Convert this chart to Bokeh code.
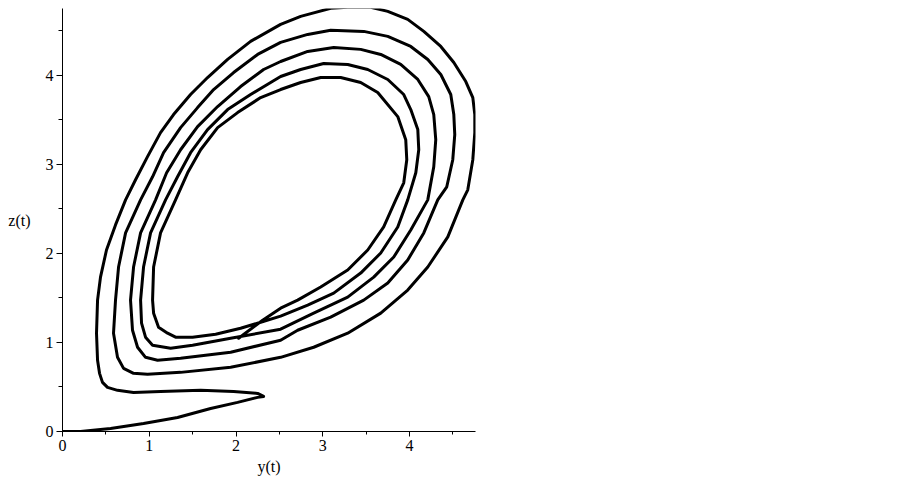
from bokeh.plotting import figure
from bokeh.models import SingleIntervalTicker
from bokeh.embed import file_html
from bokeh.resources import INLINE

# Trajectory: y(t) (horizontal) and z(t) (vertical)
tail_y = [0.0, 0.208, 0.554, 0.934, 1.326, 1.707, 2.018, 2.249, 2.318]
tail_z = [0.0, 0.0, 0.034, 0.090, 0.158, 0.259, 0.327, 0.383, 0.394]

loop1_y = [2.249, 1.972, 1.592, 1.130, 0.819, 0.634, 0.519, 0.461, 0.427, 0.404, 0.392, 0.404, 0.438, 0.507, 0.611, 0.727,
           0.842, 0.980, 1.130, 1.280, 1.476, 1.672, 1.903, 2.168, 2.514,
           2.745, 3.091, 3.287, 3.552, 3.749, 3.979, 4.164, 4.360, 4.510, 4.648, 4.729, 4.752, 4.752, 4.729, 4.671, 4.614,
           4.441, 4.210, 3.979, 3.668, 3.287, 2.895, 2.514]
loop1_z = [0.428, 0.450, 0.462, 0.450, 0.439, 0.462, 0.495, 0.552, 0.653, 0.800, 1.104, 1.475, 1.734, 2.038, 2.320, 2.601,
           2.827, 3.086, 3.356, 3.559, 3.784, 3.975, 4.178, 4.381, 4.572,
           4.662, 4.752, 4.764, 4.764, 4.718, 4.628, 4.493, 4.324, 4.144, 3.930, 3.750, 3.559, 3.356, 3.052, 2.714, 2.601,
           2.185, 1.847, 1.588, 1.329, 1.104, 0.946, 0.833]

loop2_y = [1.938, 1.361, 0.980, 0.819, 0.704, 0.634, 0.588, 0.611, 0.646, 0.727, 0.900,
           1.038, 1.165, 1.361, 1.557, 1.742, 1.972, 2.249, 2.514,
           2.826, 3.091, 3.472, 3.749, 4.014, 4.210, 4.360, 4.475, 4.510, 4.521, 4.498, 4.429, 4.325,
           4.164, 3.979, 3.749, 3.472, 3.091, 2.710, 2.514]
loop2_z = [0.721, 0.664, 0.642, 0.653, 0.709, 0.833, 1.104, 1.475, 1.847, 2.230, 2.601,
           2.860, 3.131, 3.412, 3.637, 3.840, 4.031, 4.234, 4.369,
           4.459, 4.505, 4.493, 4.437, 4.324, 4.178, 4.009, 3.784, 3.559, 3.333, 3.052, 2.748, 2.601,
           2.230, 1.926, 1.667, 1.475, 1.284, 1.137, 1.025]

loop3_y = [1.938, 1.361, 1.096, 0.957, 0.865, 0.807, 0.784, 0.819, 0.900, 1.073,
           1.200, 1.361, 1.557, 1.788, 2.053, 2.318, 2.514,
           2.826, 3.126, 3.437, 3.668, 3.898, 4.095, 4.221, 4.279, 4.302, 4.279, 4.210,
           4.014, 3.818, 3.587, 3.287, 2.895, 2.514]
loop3_z = [0.890, 0.822, 0.800, 0.833, 0.946, 1.137, 1.475, 1.847, 2.230, 2.601,
           2.905, 3.164, 3.423, 3.649, 3.874, 4.065, 4.155,
           4.268, 4.313, 4.291, 4.234, 4.122, 3.953, 3.761, 3.559, 3.277, 2.973, 2.601,
           2.263, 1.959, 1.734, 1.509, 1.329, 1.149]

loop4_y = [1.938, 1.499, 1.246, 1.038, 0.957, 0.911, 0.900, 0.934, 1.015, 1.188,
           1.326, 1.476, 1.672, 1.903, 2.168, 2.399, 2.514,
           2.745, 3.010, 3.287, 3.518, 3.749, 3.933, 4.014, 4.095, 4.106, 4.072, 3.979,
           3.864, 3.668, 3.437, 3.126, 2.826, 2.514]
loop4_z = [1.047, 0.968, 0.935, 0.968, 1.059, 1.216, 1.475, 1.847, 2.230, 2.601,
           2.860, 3.131, 3.390, 3.615, 3.784, 3.919, 3.986,
           4.065, 4.133, 4.122, 4.065, 3.953, 3.784, 3.615, 3.390, 3.164, 2.905, 2.601,
           2.297, 2.004, 1.779, 1.554, 1.419, 1.295]

loop5_y = [2.284, 2.053, 1.765, 1.499, 1.303, 1.211, 1.107, 1.050, 1.038, 1.050, 1.130, 1.303,
           1.442, 1.592, 1.788, 2.018, 2.284, 2.514,
           2.745, 2.976, 3.206, 3.437, 3.633, 3.864, 3.956, 3.968, 3.933, 3.841,
           3.702, 3.518, 3.287, 2.976, 2.710, 2.514, 2.307, 2.030]
loop5_z = [1.227, 1.160, 1.092, 1.059, 1.059, 1.104, 1.171, 1.329, 1.475, 1.847, 2.230, 2.601,
           2.905, 3.164, 3.412, 3.581, 3.750, 3.840,
           3.919, 3.975, 3.975, 3.919, 3.806, 3.536, 3.277, 3.052, 2.793, 2.601,
           2.297, 2.038, 1.813, 1.622, 1.475, 1.385, 1.250, 1.047]

traj_y = tail_y + loop1_y + loop2_y + loop3_y + loop4_y + loop5_y
traj_z = tail_z + loop1_z + loop2_z + loop3_z + loop4_z + loop5_z

p = figure(width=608, height=478, x_range=(0, 4.76), y_range=(0, 4.75),
           output_backend="svg", toolbar_location=None,
           min_border_left=62, min_border_top=8, min_border_bottom=47, min_border_right=133)
p.outline_line_color = None
p.xgrid.visible = False
p.ygrid.visible = False
p.background_fill_color = "white"
p.border_fill_color = "white"

p.line(traj_y, traj_z, line_color="black", line_width=3, line_join="round", line_cap="round")

for ax in (p.xaxis[0], p.yaxis[0]):
    ax.ticker = SingleIntervalTicker(interval=1, num_minor_ticks=2)
    ax.major_tick_in = 0
    ax.minor_tick_in = 0
    ax.axis_line_color = "black"
    ax.major_tick_line_color = "black"
    ax.minor_tick_line_color = "black"
    ax.major_label_text_font = "Liberation Serif"
    ax.major_label_text_font_size = "16px"
    ax.major_label_text_color = "black"
    ax.axis_label_text_font = "Liberation Serif"
    ax.axis_label_text_font_size = "16px"
    ax.axis_label_text_font_style = "normal"
    ax.axis_label_text_color = "black"

p.xaxis.major_tick_out = 5
p.xaxis.minor_tick_out = 3
p.xaxis.major_label_standoff = 3
p.xaxis.axis_label = "y(t)"
p.xaxis.axis_label_standoff = 4

p.yaxis.major_tick_out = 6
p.yaxis.minor_tick_out = 4
p.yaxis.major_label_standoff = 3
p.yaxis.axis_label = "z(t)"
p.yaxis.axis_label_orientation = "horizontal"
p.yaxis.axis_label_standoff = 12

open("out.html", "w").write(file_html(p, INLINE))
